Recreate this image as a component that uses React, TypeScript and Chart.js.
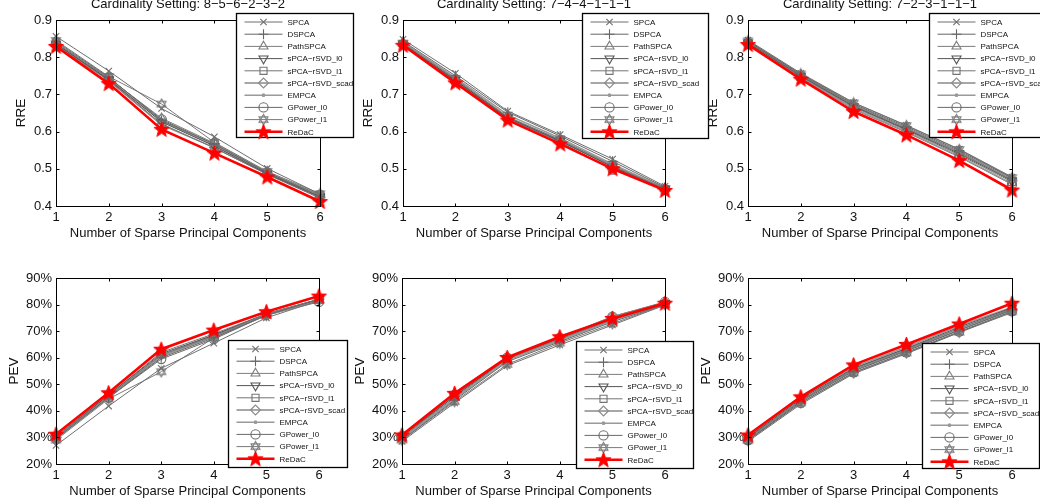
import React, { useEffect, useRef } from 'react';
import { Chart, registerables } from 'chart.js';
import { drawPoint } from 'chart.js/helpers';

Chart.register(...registerables);

const FONT = '"Liberation Sans", Arial, Helvetica, sans-serif';

// ---------- data ----------
const COMPONENTS = ['1', '2', '3', '4', '5', '6'];
const METHODS = [
  'SPCA', 'DSPCA', 'PathSPCA', 'sPCA−rSVD_l0', 'sPCA−rSVD_l1',
  'sPCA−rSVD_scad', 'EMPCA', 'GPower_l0', 'GPower_l1', 'ReDaC',
];
const TITLES = [
  'Cardinality Setting: 8−5−6−2−3−2',
  'Cardinality Setting: 7−4−4−1−1−1',
  'Cardinality Setting: 7−2−3−1−1−1',
];
const RRE_RANGE = [0.4, 0.9];
const RRE_STEP = 0.1;
const PEV_RANGE = [20, 90];
const PEV_STEP = 10;

// RRE, cardinality 8-5-6-2-3-2 (rows follow METHODS)
const RRE_856232: number[][] = [
  [0.856, 0.763, 0.662, 0.586, 0.501, 0.432],
  [0.842, 0.746, 0.630, 0.566, 0.490, 0.426],
  [0.839, 0.743, 0.636, 0.569, 0.491, 0.429],
  [0.836, 0.740, 0.626, 0.561, 0.487, 0.425],
  [0.835, 0.738, 0.621, 0.556, 0.485, 0.421],
  [0.833, 0.737, 0.618, 0.557, 0.486, 0.423],
  [0.837, 0.741, 0.628, 0.563, 0.488, 0.424],
  [0.838, 0.744, 0.633, 0.566, 0.490, 0.430],
  [0.845, 0.748, 0.674, 0.571, 0.493, 0.433],
  [0.829, 0.729, 0.606, 0.542, 0.478, 0.412],
];
// RRE, cardinality 7-4-4-1-1-1
const RRE_744111: number[][] = [
  [0.848, 0.757, 0.655, 0.592, 0.526, 0.453],
  [0.843, 0.750, 0.652, 0.588, 0.520, 0.450],
  [0.838, 0.742, 0.640, 0.578, 0.508, 0.447],
  [0.836, 0.738, 0.637, 0.575, 0.505, 0.446],
  [0.835, 0.737, 0.636, 0.574, 0.505, 0.445],
  [0.836, 0.739, 0.638, 0.576, 0.506, 0.446],
  [0.840, 0.745, 0.645, 0.582, 0.512, 0.448],
  [0.835, 0.736, 0.634, 0.572, 0.498, 0.444],
  [0.838, 0.740, 0.638, 0.578, 0.510, 0.447],
  [0.832, 0.731, 0.631, 0.567, 0.500, 0.442],
];
// RRE, cardinality 7-2-3-1-1-1
const RRE_723111: number[][] = [
  [0.846, 0.757, 0.678, 0.617, 0.553, 0.478],
  [0.843, 0.754, 0.674, 0.613, 0.549, 0.475],
  [0.841, 0.752, 0.672, 0.610, 0.546, 0.472],
  [0.839, 0.750, 0.668, 0.606, 0.541, 0.468],
  [0.838, 0.748, 0.666, 0.604, 0.538, 0.465],
  [0.840, 0.751, 0.670, 0.608, 0.544, 0.470],
  [0.837, 0.746, 0.662, 0.600, 0.534, 0.460],
  [0.836, 0.745, 0.660, 0.598, 0.532, 0.458],
  [0.844, 0.755, 0.677, 0.616, 0.552, 0.476],
  [0.834, 0.741, 0.654, 0.591, 0.522, 0.443],
];
// PEV (%), cardinality 8-5-6-2-3-2
const PEV_856232: number[][] = [
  [27.0, 41.8, 56.0, 65.5, 75.0, 81.5],
  [29.5, 45.0, 60.0, 67.5, 76.0, 82.0],
  [30.0, 45.5, 61.0, 68.0, 76.5, 82.0],
  [30.0, 46.0, 61.5, 68.5, 76.5, 82.0],
  [30.5, 46.0, 62.0, 69.0, 76.5, 82.0],
  [30.0, 45.5, 61.0, 68.5, 76.0, 82.0],
  [29.5, 45.0, 60.5, 68.0, 76.0, 81.5],
  [30.0, 45.0, 59.5, 67.0, 76.0, 81.0],
  [29.0, 44.5, 54.7, 67.5, 76.0, 81.5],
  [31.2, 46.8, 63.2, 70.4, 77.3, 83.2],
];
// PEV (%), cardinality 7-4-4-1-1-1
const PEV_744111: number[][] = [
  [28.5, 43.0, 57.0, 64.8, 72.3, 79.8],
  [29.0, 44.0, 58.5, 66.0, 73.5, 80.0],
  [30.0, 45.0, 59.5, 67.0, 74.5, 80.5],
  [30.5, 45.5, 59.8, 67.3, 74.5, 80.5],
  [30.0, 45.5, 59.5, 67.0, 74.3, 80.3],
  [30.5, 46.0, 60.0, 67.5, 75.5, 80.8],
  [29.5, 44.5, 59.0, 66.5, 74.0, 80.0],
  [30.5, 46.0, 60.0, 67.5, 75.5, 81.0],
  [29.0, 43.5, 57.5, 65.5, 72.8, 80.0],
  [30.9, 46.6, 60.1, 67.9, 74.8, 80.5],
];
// PEV (%), cardinality 7-2-3-1-1-1
const PEV_723111: number[][] = [
  [28.5, 42.5, 54.0, 61.5, 69.5, 77.0],
  [29.0, 43.5, 55.0, 62.5, 70.3, 78.0],
  [29.5, 44.0, 55.5, 63.0, 71.0, 78.3],
  [30.0, 44.5, 56.0, 63.5, 71.5, 78.8],
  [29.8, 44.0, 55.8, 63.3, 71.0, 78.5],
  [29.5, 43.8, 55.2, 62.8, 70.5, 78.0],
  [30.2, 44.8, 56.5, 64.0, 72.0, 79.0],
  [29.0, 43.0, 54.5, 62.0, 69.8, 77.5],
  [28.8, 43.0, 54.3, 61.8, 69.6, 77.3],
  [30.9, 45.3, 57.3, 65.0, 72.7, 80.5],
];

// ---------- layout / styles ----------
type Panel = {
  kind: 'RRE' | 'PEV';
  title?: string;
  values: number[][];
  plot: { l: number; t: number; r: number; b: number };
  legend: { dx: number; dy: number; w: number; h: number };
};

const PANELS: Panel[] = [
  { kind: 'RRE', title: TITLES[0], values: RRE_856232, plot: { l: 56, t: 20, r: 320, b: 206 }, legend: { dx: -84, dy: -7, w: 117, h: 124 } },
  { kind: 'RRE', title: TITLES[1], values: RRE_744111, plot: { l: 403, t: 20, r: 665, b: 206 }, legend: { dx: -83, dy: -7, w: 126, h: 125 } },
  { kind: 'RRE', title: TITLES[2], values: RRE_723111, plot: { l: 748, t: 20, r: 1012, b: 206 }, legend: { dx: -83, dy: -7, w: 124, h: 124 } },
  { kind: 'PEV', values: PEV_856232, plot: { l: 56, t: 278, r: 319, b: 464 }, legend: { dx: -91, dy: 62, w: 119, h: 127 } },
  { kind: 'PEV', values: PEV_744111, plot: { l: 402, t: 278, r: 665, b: 464 }, legend: { dx: -89, dy: 63, w: 117, h: 127 } },
  { kind: 'PEV', values: PEV_723111, plot: { l: 748, t: 278, r: 1012, b: 464 }, legend: { dx: -90, dy: 65, w: 117, h: 125 } },
];

function makeHexagram(color: string) {
  const c = document.createElement('canvas');
  c.width = 13; c.height = 13;
  const g = c.getContext('2d')!;
  g.strokeStyle = color; g.lineWidth = 1.1;
  const cx = 6.5, cy = 6.5, R = 5.2;
  for (const off of [0, Math.PI]) {
    g.beginPath();
    for (let k = 0; k < 3; k++) {
      const a = off + (k * 2 * Math.PI) / 3 - Math.PI / 2;
      const px = cx + R * Math.cos(a), py = cy + R * Math.sin(a);
      if (k) g.lineTo(px, py); else g.moveTo(px, py);
    }
    g.closePath();
    g.stroke();
  }
  return c;
}

function makeStar(color: string) {
  const c = document.createElement('canvas');
  c.width = 19; c.height = 19;
  const g = c.getContext('2d')!;
  g.fillStyle = color; g.strokeStyle = color; g.lineWidth = 1;
  const cx = 9.5, cy = 10, R = 8, r = 3.3;
  g.beginPath();
  for (let k = 0; k < 10; k++) {
    const a = -Math.PI / 2 + (k * Math.PI) / 5;
    const rr = k % 2 ? r : R;
    const px = cx + rr * Math.cos(a), py = cy + rr * Math.sin(a);
    if (k) g.lineTo(px, py); else g.moveTo(px, py);
  }
  g.closePath();
  g.fill();
  g.stroke();
  return c;
}

type SeriesStyle = { color: string; width: number; point: any; radius: number; rotation?: number; fill?: boolean };

function makeStyles(): SeriesStyle[] {
  return [
    { color: '#6f6f6f', width: 1, point: 'crossRot', radius: 4.5 },
    { color: '#666666', width: 1, point: 'cross', radius: 5 },
    { color: '#7d7d7d', width: 1, point: 'triangle', radius: 5.2 },
    { color: '#555555', width: 1, point: 'triangle', rotation: 180, radius: 5.2 },
    { color: '#747474', width: 1, point: 'rect', radius: 5 },
    { color: '#8a8a8a', width: 1.3, point: 'rectRot', radius: 5 },
    { color: '#999999', width: 1.6, point: 'circle', radius: 1.3, fill: true },
    { color: '#6a6a6a', width: 1, point: 'circle', radius: 4.6 },
    { color: '#7a7a7a', width: 1, point: makeHexagram('#7a7a7a'), radius: 5 },
    { color: '#ff0000', width: 2.6, point: makeStar('#ff0000'), radius: 8 },
  ];
}

const framePlugin = {
  id: 'matFrame',
  afterDraw(chart: any, _args: any, opts: any) {
    const { ctx, chartArea: a } = chart;
    const L = Math.round(a.left) + 0.5, R = Math.round(a.right) + 0.5;
    const T = Math.round(a.top) + 0.5, B = Math.round(a.bottom) + 0.5;
    ctx.save();
    ctx.strokeStyle = '#000';
    ctx.lineWidth = 1;
    ctx.strokeRect(L, T, R - L, B - T);
    const xs = chart.scales.x, ys = chart.scales.y;
    ctx.beginPath();
    xs.ticks.forEach((_t: any, i: number) => {
      const px = Math.round(xs.getPixelForTick(i)) + 0.5;
      ctx.moveTo(px, B); ctx.lineTo(px, B - 3);
      ctx.moveTo(px, T); ctx.lineTo(px, T + 3);
    });
    ys.ticks.forEach((_t: any, i: number) => {
      const py = Math.round(ys.getPixelForTick(i)) + 0.5;
      ctx.moveTo(L, py); ctx.lineTo(L + 3, py);
      ctx.moveTo(R, py); ctx.lineTo(R - 3, py);
    });
    ctx.stroke();

    if (opts.title) {
      ctx.font = `13px ${FONT}`;
      ctx.fillStyle = '#111';
      ctx.textAlign = 'center';
      ctx.textBaseline = 'middle';
      ctx.fillText(opts.title, (a.left + a.right) / 2, a.top - 16);
    }

    const lg = opts.legend;
    if (lg) {
      const lx = Math.round(a.right + lg.dx) + 0.5;
      const ly = Math.round(a.top + lg.dy) + 0.5;
      ctx.fillStyle = '#fff';
      ctx.fillRect(lx, ly, lg.w, lg.h);
      ctx.strokeStyle = '#000';
      ctx.lineWidth = 1.3;
      ctx.strokeRect(lx, ly, lg.w, lg.h);
      chart.data.datasets.forEach((ds: any, i: number) => {
        const cy = ly + 8.5 + i * 12.2;
        ctx.strokeStyle = ds.borderColor;
        ctx.lineWidth = ds.borderWidth;
        ctx.beginPath();
        ctx.moveTo(lx + 8, cy);
        ctx.lineTo(lx + 46, cy);
        ctx.stroke();
        ctx.strokeStyle = ds.pointBorderColor;
        ctx.fillStyle = ds.pointBackgroundColor;
        ctx.lineWidth = ds.pointBorderWidth;
        drawPoint(ctx, {
          pointStyle: ds.pointStyle,
          rotation: ds.pointRotation,
          radius: ds.pointRadius,
          borderWidth: ds.pointBorderWidth,
        } as any, lx + 27, cy);
        ctx.fillStyle = '#111';
        ctx.font = `8px ${FONT}`;
        ctx.textAlign = 'left';
        ctx.textBaseline = 'middle';
        ctx.fillText(ds.label, lx + 51, cy + 0.5);
      });
    }
    ctx.restore();
  },
};

function makeConfig(p: Panel, styles: SeriesStyle[]): any {
  const isRRE = p.kind === 'RRE';
  const yTitleSize = 13.5;
  const yW = (isRRE ? 35 : 42) + (yTitleSize * 1.2) / 2;
  const xH = 27 + 7.8;
  const range = isRRE ? RRE_RANGE : PEV_RANGE;
  return {
    type: 'line',
    data: {
      labels: COMPONENTS,
      datasets: p.values.map((vals, i) => {
        const s = styles[i];
        return {
          label: METHODS[i],
          data: vals,
          borderColor: s.color,
          borderWidth: s.width,
          pointStyle: s.point,
          pointRadius: s.radius,
          pointRotation: s.rotation || 0,
          pointBorderColor: s.color,
          pointBackgroundColor: s.fill ? s.color : 'rgba(0,0,0,0)',
          pointBorderWidth: 1.1,
          tension: 0,
          fill: false,
          clip: false,
          order: i === METHODS.length - 1 ? 0 : 1,
        };
      }),
    },
    options: {
      responsive: false,
      animation: false,
      events: [],
      layout: {
        padding: {
          left: p.plot.l - yW,
          top: p.plot.t,
          right: 1040 - p.plot.r,
          bottom: 502 - p.plot.b - xH,
        },
      },
      plugins: {
        legend: { display: false },
        tooltip: { enabled: false },
        title: { display: false },
        matFrame: { title: p.title, legend: p.legend },
      },
      scales: {
        x: {
          type: 'category',
          offset: false,
          grid: { display: false, drawTicks: false },
          border: { display: false },
          ticks: { padding: 4, font: { family: FONT, size: 13 }, color: '#111', maxRotation: 0, autoSkip: false },
          title: { display: true, text: 'Number of Sparse Principal Components', font: { family: FONT, size: 13 }, color: '#111', padding: 0 },
          afterFit: (s: any) => { s.height = xH; },
        },
        y: {
          type: 'linear',
          min: range[0],
          max: range[1],
          grid: { display: false, drawTicks: false },
          border: { display: false },
          ticks: {
            stepSize: isRRE ? RRE_STEP : PEV_STEP,
            padding: 4,
            font: { family: FONT, size: 13 },
            color: '#111',
            callback: (v: any) => (isRRE ? Number(v).toFixed(1) : `${Math.round(Number(v))}%`),
          },
          title: { display: true, text: p.kind, font: { family: FONT, size: yTitleSize }, color: '#111', padding: 0 },
          afterFit: (s: any) => { s.width = yW; },
        },
      },
    },
    plugins: [framePlugin],
  };
}

export default function App() {
  const refs = useRef<(HTMLCanvasElement | null)[]>([]);
  useEffect(() => {
    const styles = makeStyles();
    const charts = PANELS.map((p, i) => new Chart(refs.current[i]!, makeConfig(p, styles)));
    return () => charts.forEach((c) => c.destroy());
  }, []);
  return (
    <div style={{ position: 'absolute', left: 0, top: 0, width: 1040, height: 502, overflow: 'hidden', background: '#fff' }}>
      {PANELS.map((_p, i) => (
        <canvas
          key={i}
          ref={(el) => { refs.current[i] = el; }}
          width={1040}
          height={502}
          style={{ position: 'absolute', left: 0, top: 0, width: 1040, height: 502 }}
        />
      ))}
    </div>
  );
}
